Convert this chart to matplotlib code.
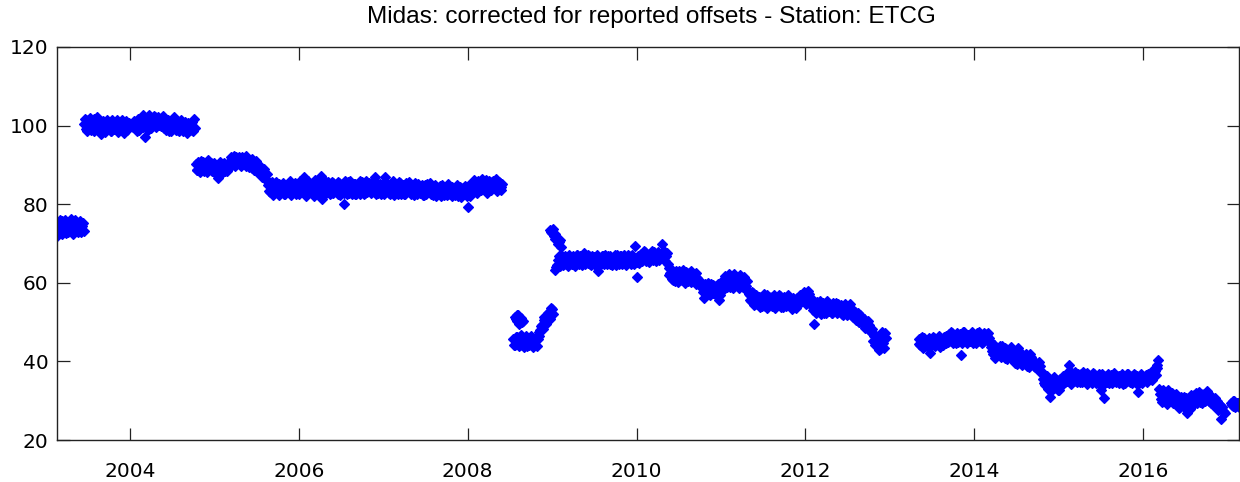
import numpy as np
import matplotlib
matplotlib.use("Agg")
import matplotlib.pyplot as plt

# Position series, station ETCG. Each run holds two interleaved sample lists:
# "a" at start + 0.02*i and "b" at start + 0.01 + 0.02*i (decimal years).
STEP = 0.02

run1_start = 2003.14
run1_a = [72.0, 74.8, 73.2, 75.6, 74.1, 72.6, 75.0, 74.4, 76.2, 73.5, 74.9, 73.9, 75.3, 74.2, 73.0, 75.1,
          100.4, 99.2, 101.3, 100.1, 98.9, 100.8, 101.6, 99.7, 100.5, 98.8, 97.9, 101.1, 100.2, 99.9,
          99.6, 100.7, 98.6, 100.1, 101.0, 99.3, 98.4, 100.2, 99.5, 100.9, 99.0, 100.3, 99.7]
run1_b = [73.6, 75.9, 72.4, 74.6, 76.0, 73.4, 72.9, 75.4, 74.0, 72.5, 76.1, 73.7, 72.8, 75.8, 74.5, 73.3,
          101.6, 98.5, 100.0, 102.0, 99.6, 98.7, 100.6, 102.2, 98.9, 101.2, 99.9, 99.2, 98.3, 101.5,
          100.8, 98.6, 101.4, 99.2, 99.6, 101.3, 100.4, 99.1, 101.5, 98.2, 101.1, 98.9, 100.6]

run2_start = 2004.04
run2_a = [99.6, 100.9, 98.7, 100.2, 99.3, 101.6, 102.8, 97.2, 100.5, 101.3,
          100.0, 101.9, 100.8, 102.1, 101.0, 100.2, 101.5, 100.4, 99.5, 100.9,
          99.8, 98.7, 100.3, 99.4, 102.3, 99.0, 100.1, 98.6, 99.7, 100.5,
          98.9, 99.9, 98.4, 100.2, 99.1, 100.0, 101.7]
run2_b = [101.2, 99.4, 101.7, 98.8, 100.9, 99.7, 100.4, 101.8, 98.9, 102.6,
          99.4, 100.5, 102.5, 99.7, 102.3, 101.8, 99.8, 102.4, 101.2, 98.8,
          101.4, 100.2, 98.6, 101.6, 100.0, 101.3, 98.8, 100.7, 101.3, 98.7,
          100.8, 98.2, 100.6, 98.9, 100.8, 98.6, 99.4]

run3_start = 2004.78
run3_a = [90.2, 88.6, 89.9, 91.0, 89.2, 88.4, 90.3, 89.6, 88.9, 90.5,
          89.1, 88.3, 90.0, 86.6, 89.4, 88.8, 89.7, 88.5, 90.1, 89.3,
          90.8, 91.9, 90.3, 91.5, 92.0, 90.6, 91.3, 89.9, 91.7, 90.9,
          89.6, 91.0, 90.2, 89.1, 90.4, 88.7, 89.5, 88.2, 87.9, 88.8,
          87.4, 86.3, 87.6,
          84.8, 83.1, 85.6, 82.4, 84.0, 83.3, 85.1, 82.8, 84.4, 83.6,
          82.6, 84.9, 83.8, 85.3, 82.9, 84.2, 83.4, 85.0, 82.5, 84.6,
          83.2, 86.9, 84.3, 82.7, 85.4, 83.6, 84.7, 82.2, 85.2, 83.9,
          84.5, 87.2, 81.4, 84.1, 85.6, 83.0, 84.8, 82.9, 85.3, 83.7,
          84.9, 82.6, 85.5, 83.4, 84.2, 80.1, 83.8, 85.7, 82.8, 84.6,
          83.5, 85.1, 82.7, 84.4, 86.0, 83.2, 84.8, 82.9, 85.4, 83.8,
          84.6, 83.1, 85.8, 87.0, 84.0, 82.8, 85.2, 83.6, 84.9, 86.9,
          83.4, 85.0, 82.6, 84.3, 85.6, 83.1, 84.7, 82.5, 85.3, 83.9,
          84.4, 82.7, 85.1, 83.5, 84.8, 82.9, 84.0, 85.4, 82.6, 84.2,
          83.3, 84.9, 82.4, 84.1, 85.2, 83.0, 82.5, 84.6, 83.4, 82.1,
          84.0, 82.8, 83.6, 85.0, 82.3, 83.9, 82.9, 84.4, 83.1, 82.2,
          83.8, 82.5, 84.5, 83.0, 81.9, 84.2, 82.7, 83.5, 79.4, 84.6,
          85.1, 83.9, 85.8, 84.3, 86.0, 84.7, 83.6, 85.5, 84.1, 86.2,
          84.8, 85.6, 83.7, 85.9, 84.5, 86.1, 84.0, 85.3, 83.5]
run3_b = [88.7, 90.8, 88.2, 89.5, 90.7, 89.9, 88.1, 91.2, 90.0, 88.5,
          90.4, 89.8, 88.1, 88.9, 90.8, 87.9, 90.6, 89.9, 88.4, 90.7,
          89.5, 90.4, 92.3, 89.8, 90.9, 92.1, 89.7, 91.9, 90.4, 92.2,
          91.8, 89.4, 90.8, 91.6, 88.6, 90.9, 88.3, 90.1, 89.3, 86.9,
          88.9, 87.7, 85.9,
          83.3, 85.2, 84.4, 82.9, 85.7, 84.6, 82.3, 83.9, 85.5, 82.7,
          84.1, 83.0, 85.8, 82.4, 84.7, 85.5, 82.6, 83.7, 85.9, 83.1,
          85.6, 83.5, 82.1, 85.8, 83.0, 84.9, 83.3, 86.1, 82.8, 85.5,
          82.7, 85.4, 84.3, 82.6, 83.9, 85.7, 82.5, 85.6, 82.8, 85.0,
          83.1, 85.6, 82.3, 84.9, 82.9, 86.0, 82.6, 83.9, 85.9, 82.7,
          85.2, 82.6, 84.8, 83.0, 82.7, 85.6, 82.5, 85.8, 83.0, 85.5,
          82.9, 85.3, 84.2, 82.6, 85.5, 84.5, 82.5, 84.9, 82.7, 85.4,
          85.2, 82.8, 84.1, 85.8, 82.4, 84.9, 83.1, 85.6, 82.5, 84.8,
          82.6, 85.3, 83.7, 85.6, 82.7, 84.8, 82.4, 83.6, 85.1, 82.8,
          84.7, 82.4, 85.0, 82.6, 83.6, 85.3, 83.9, 82.3, 84.9, 83.8,
          82.6, 84.6, 82.2, 84.1, 83.7, 82.4, 85.1, 82.5, 84.5, 83.9,
          82.4, 84.9, 82.2, 84.4, 83.6, 82.5, 84.6, 82.2, 84.8, 82.1,
          83.5, 86.1, 84.0, 82.9, 85.5, 83.6, 86.3, 83.8, 85.7, 82.9,
          85.9, 83.6, 85.3, 84.1, 86.3, 83.3, 85.6, 84.3, 85.1]

run4_start = 2008.54
run4_a = [45.6, 44.3, 46.2, 45.0, 44.1, 45.8, 44.6, 45.3, 43.9, 45.7, 44.4, 45.9, 44.8, 45.2, 44.0,
          46.4, 48.0, 49.2, 50.5, 51.3, 50.2, 52.6, 51.4, 53.3]
run4_b = [44.1, 46.3, 45.0, 43.8, 46.6, 45.1, 43.7, 46.4, 44.9, 44.2, 46.5, 43.6, 45.7, 46.1, 45.6,
          47.5, 49.0, 48.3, 51.4, 49.6, 52.3, 50.8, 53.6, 52.1]

run5_start = 2008.56
run5_a = [51.3, 50.2, 51.7, 50.6, 49.9]
run5_b = [50.7, 51.9, 49.6, 51.0, 50.4]

run6_start = 2008.98
run6_a = [73.4, 72.6, 71.9, 72.4, 70.8, 70.3, 69.2]
run6_b = [72.9, 73.7, 71.2, 71.6, 69.9, 70.9]

run7_start = 2009.04
run7_a = [63.2, 64.5, 66.8, 65.4, 66.2, 64.9, 66.6, 65.1, 67.0, 65.8,
          64.7, 66.3, 65.5, 67.1, 64.8, 66.0, 65.2, 67.6, 66.4, 65.0,
          66.7, 64.6, 65.9, 66.5, 64.9, 63.0, 66.1, 65.3, 66.8, 64.7,
          65.6, 66.9, 64.8, 66.2, 65.1, 67.0, 64.6, 66.3, 65.4, 66.7,
          65.0, 66.5, 64.9, 67.2, 65.7, 66.8, 65.3, 69.3, 61.6, 66.9,
          65.8, 67.4, 66.2, 67.8, 65.9, 67.1, 66.5, 68.0, 65.7, 67.3,
          66.1, 67.6, 66.4, 69.8, 66.9, 65.6, 67.5,
          63.8, 62.4, 61.0, 62.7, 60.5, 61.9, 63.1, 60.8, 62.2, 61.4,
          59.9, 62.6, 61.1, 60.3, 62.0, 61.6, 59.7, 61.3, 60.6, 59.2,
          58.9, 56.2, 59.4, 57.8, 58.6, 59.7, 57.4, 58.3, 59.2, 57.9, 55.7,
          59.3, 60.8, 58.4, 61.2, 59.9, 62.1, 60.4, 58.8, 61.6, 60.1,
          59.5, 61.9, 60.7, 58.9, 60.3, 59.1, 57.8,
          56.9, 55.3, 57.4, 54.6, 56.1, 55.0, 53.8, 56.5, 55.4, 54.2,
          57.0, 55.7, 54.4, 56.3, 55.1, 53.6, 55.9, 54.8, 56.6, 55.2,
          53.9, 55.5, 54.3, 56.0, 54.9, 53.4, 55.6, 54.5, 56.2, 55.0,
          56.8, 55.4, 57.6, 56.1, 54.9, 57.2, 55.8,
          54.2, 49.4, 53.5, 55.1, 52.7, 53.9, 54.6, 52.4, 53.3, 55.4,
          52.9, 54.0, 52.2, 53.7, 54.8, 52.6, 53.1, 54.3, 51.9, 53.6,
          52.8, 54.1, 52.3, 51.7, 53.0,
          51.8, 50.6, 52.3, 50.1, 51.2, 49.4, 50.7, 49.0, 50.3, 48.6,
          47.6, 45.2, 46.8, 44.3, 46.1, 43.2, 45.4, 44.6, 47.2]
run7_b = [64.1, 65.9, 64.4, 67.2, 64.6, 66.9, 65.5, 64.3, 66.5, 64.9,
          66.8, 64.4, 67.0, 65.2, 66.9, 64.5, 66.7, 64.9, 65.6, 67.2,
          64.8, 66.9, 65.1, 64.5, 67.1, 65.7, 64.6, 66.9, 65.0, 67.0,
          64.8, 65.8, 66.9, 64.5, 66.6, 65.0, 67.2, 64.7, 66.9, 64.9,
          67.1, 64.6, 66.6, 65.2, 64.7, 67.0, 64.9, 66.4, 65.3, 65.0,
          67.3, 65.6, 68.0, 65.5, 66.9, 65.3, 67.6, 66.3, 67.9, 65.6,
          67.8, 65.9, 67.0, 66.3, 68.1, 66.9, 64.8,
          62.0, 63.5, 60.6, 61.8, 63.0, 60.2, 62.4, 61.0, 63.3, 60.4,
          62.8, 60.5, 61.8, 62.9, 60.7, 60.9, 62.4, 59.9, 60.3, 58.6,
          57.6, 59.6, 58.0, 59.9, 57.0, 58.9, 59.5, 57.2, 58.7, 59.8, 56.9,
          58.3, 59.8, 61.7, 59.0, 62.2, 58.9, 61.3, 62.3, 59.4, 61.4,
          58.6, 60.9, 59.5, 61.5, 58.5, 60.4, 57.2,
          55.6, 57.6, 54.4, 56.8, 54.9, 56.3, 55.9, 54.2, 57.1, 55.7,
          53.6, 56.3, 55.2, 54.0, 56.8, 54.7, 55.2, 56.9, 53.9, 55.8,
          56.4, 54.2, 56.8, 54.5, 53.8, 56.2, 54.6, 53.7, 56.0, 55.6,
          55.0, 57.2, 55.9, 54.6, 57.9, 56.4, 54.8,
          53.0, 55.0, 52.4, 54.2, 55.3, 52.0, 54.9, 53.7, 52.3, 54.5,
          53.5, 52.3, 54.9, 53.3, 52.2, 54.6, 53.9, 52.0, 53.4, 54.6,
          51.8, 53.2, 54.5, 52.6, 51.4,
          52.5, 51.2, 49.9, 51.7, 49.8, 50.8, 48.5, 50.0, 49.2, 47.8,
          48.3, 46.4, 44.1, 45.8, 42.8, 44.9, 47.6, 43.5, 45.9]

run8_start = 2013.34
run8_a = [45.6, 44.2, 46.3, 45.0, 43.8, 45.4, 46.0, 42.1, 44.7, 45.9, 44.3, 45.5, 46.4, 44.9, 45.2, 46.1, 44.6,
          45.8, 46.9, 45.1, 47.2, 46.0, 44.8, 46.6, 45.4, 41.6, 46.2, 47.5, 45.7, 44.9, 46.8, 45.3,
          47.0, 46.1, 44.7, 45.9, 47.6, 46.3, 45.0, 46.7, 45.6, 47.3, 46.0,
          43.6, 42.0, 44.1, 41.5, 42.8, 43.9, 41.2, 42.6, 40.8, 43.2, 41.9, 42.4, 40.9,
          41.3, 39.6, 40.8, 43.4, 40.1, 39.2, 41.5, 40.4, 38.9, 40.7, 41.8, 39.5, 40.2, 38.7,
          39.4, 37.9, 38.8, 37.2,
          35.6, 34.1, 36.2, 33.5, 30.9, 34.8, 33.2, 35.3, 34.0, 32.8, 35.0, 33.9, 35.7,
          36.2, 34.9, 39.1, 35.6, 37.0, 35.3, 36.5, 34.8,
          35.8, 36.9, 34.7, 36.3, 35.2, 37.1, 34.9, 36.0, 35.5, 36.7,
          34.6, 35.9, 36.8, 32.7, 35.1, 30.7, 36.2, 35.4, 34.5, 36.5,
          35.7, 37.0, 34.8, 35.9, 36.4, 35.0, 34.3, 36.1, 35.6, 36.9,
          34.7, 35.8, 35.3, 36.6, 34.4, 32.2, 35.5, 36.3, 34.9, 36.0,
          35.2, 36.8, 35.6, 37.3, 36.1, 37.6,
          39.2, 40.4,
          31.8, 29.6, 32.3, 30.4, 29.1, 31.5, 30.0, 32.0, 29.4, 30.8,
          29.0, 30.3, 28.4, 29.7, 31.0, 28.8, 26.9, 29.9, 30.5, 28.6,
          31.4, 30.1, 29.3, 32.2, 30.7, 29.5, 31.6, 30.2, 32.5, 29.8,
          31.1, 30.4, 29.2, 28.3, 29.6, 27.9, 25.4, 28.5, 27.2]
run8_b = [44.5, 46.0, 43.4, 45.9, 44.9, 43.6, 45.2, 44.0, 46.2, 43.9, 45.6, 44.8, 43.6, 45.8, 44.2, 45.4, 46.5,
          44.9, 46.4, 47.5, 44.7, 45.6, 47.1, 45.0, 46.9, 44.6, 47.4, 45.5, 44.8, 46.7, 45.2, 47.6,
          44.6, 46.5, 47.2, 45.1, 46.4, 44.7, 47.2, 45.5, 46.9, 44.9, 45.3,
          42.7, 44.3, 40.9, 43.5, 41.9, 42.5, 44.0, 41.6, 43.5, 40.7, 42.5, 43.6, 41.7,
          40.2, 42.2, 39.4, 41.2, 42.1, 40.8, 39.9, 41.9, 39.8, 38.6, 41.2, 40.3, 38.9, 39.6,
          38.6, 39.8, 37.3, 36.5,
          34.6, 36.4, 33.0, 35.4, 34.3, 33.1, 36.0, 34.1, 32.6, 35.6, 34.3, 36.3, 34.8,
          35.1, 37.3, 35.9, 34.2, 36.6, 37.4, 35.0, 36.7,
          34.8, 35.6, 37.2, 35.4, 34.3, 36.5, 35.8, 34.6, 37.1, 35.3,
          36.3, 34.4, 35.6, 36.9, 33.9, 35.7, 34.8, 36.7, 35.9, 34.4,
          36.9, 35.1, 36.3, 34.6, 35.4, 36.8, 35.9, 34.6, 36.9, 35.0,
          36.2, 34.5, 36.8, 35.2, 36.4, 34.6, 36.9, 34.5, 35.7, 36.6,
          34.7, 35.4, 36.9, 35.3, 38.0, 36.6,
          38.3, 33.0,
          30.5, 32.6, 29.9, 31.2, 32.7, 29.8, 31.6, 30.9, 29.5, 31.7,
          29.8, 28.1, 31.0, 30.4, 28.3, 30.6, 29.2, 28.0, 31.4, 29.6,
          30.3, 31.9, 30.6, 29.6, 31.8, 30.8, 29.9, 32.0, 30.9, 31.3,
          29.5, 29.0, 30.8, 29.9, 27.6, 28.9, 28.4, 27.3, 26.8]

run9_start = 2017.04
run9_a = [29.3, 28.6, 29.8, 28.9, 29.5, 28.4]
run9_b = [28.9, 29.9, 28.3, 29.4, 28.7]

runs = [(run1_start, run1_a, run1_b), (run2_start, run2_a, run2_b),
        (run3_start, run3_a, run3_b), (run4_start, run4_a, run4_b),
        (run5_start, run5_a, run5_b), (run6_start, run6_a, run6_b),
        (run7_start, run7_a, run7_b), (run8_start, run8_a, run8_b),
        (run9_start, run9_a, run9_b)]

x_ticks = [2004, 2006, 2008, 2010, 2012, 2014, 2016]
y_ticks = [20, 40, 60, 80, 100, 120]
title = "Midas: corrected for reported offsets - Station: ETCG"

fig = plt.figure(figsize=(12.4, 4.82), dpi=100)
ax = fig.add_axes([57 / 1240, 1 - 440 / 482, (1239 - 57) / 1240, (440 - 47) / 482])

for start, vals_a, vals_b in runs:
    for offset, vals in ((0.0, vals_a), (STEP / 2, vals_b)):
        vals = np.asarray(vals)
        t = start + offset + STEP * np.arange(len(vals))
        ax.plot(t, vals, linestyle="none", marker="D", markersize=4.8,
                color="#0000ff", markeredgewidth=0.9, clip_on=True)

ax.set_xlim(2003.136, 2017.136)
ax.set_ylim(20, 120)
ax.set_xticks(x_ticks)
ax.set_yticks(y_ticks)
ax.set_xticklabels([str(v) for v in x_ticks])
ax.set_yticklabels([str(v) for v in y_ticks])

for s in ax.spines.values():
    s.set_color("#222222")
    s.set_linewidth(1.0)

ax.tick_params(direction="in", length=9, width=0.9, color="#222222",
               top=True, right=True, labelsize=14.5, labelcolor="black")
ax.tick_params(axis="x", pad=15.5)
ax.tick_params(axis="y", pad=6)
for lab in ax.get_xticklabels() + ax.get_yticklabels():
    lab.set_family("DejaVu Sans")

fig.text(651 / 1240, 1 - 17 / 482, title, ha="center", va="center",
         fontsize=17.6, family="Liberation Sans")

fig.savefig("out.png", dpi=100)
